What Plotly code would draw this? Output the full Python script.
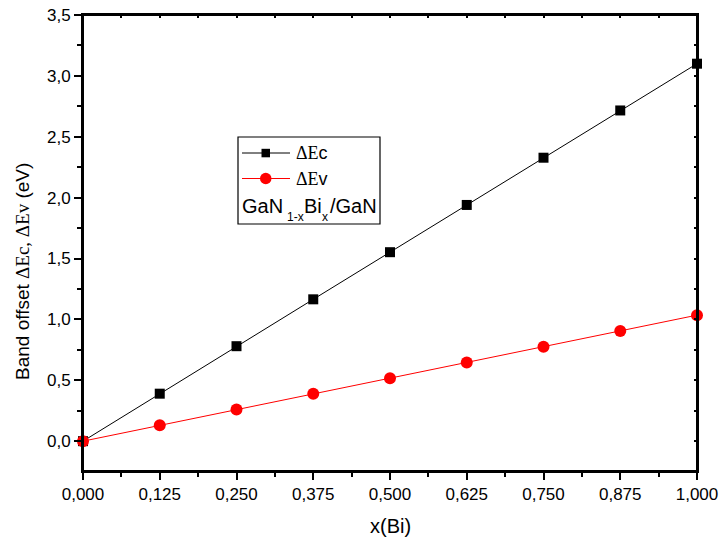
import plotly.graph_objects as go

x_bi = [0.0, 0.125, 0.25, 0.375, 0.5, 0.625, 0.75, 0.875, 1.0]
dEc = [0.0, 0.39, 0.78, 1.165, 1.552, 1.94, 2.328, 2.716, 3.1]
dEv = [0.0, 0.13, 0.26, 0.39, 0.517, 0.646, 0.776, 0.905, 1.035]
x_ticks = [0.0, 0.125, 0.25, 0.375, 0.5, 0.625, 0.75, 0.875, 1.0]
y_ticks = [0.0, 0.5, 1.0, 1.5, 2.0, 2.5, 3.0, 3.5]

SERIF = "Liberation Serif, Times New Roman, serif"
SANS = "Liberation Sans, Arial, sans-serif"

L, R, T, B = 83, 22, 15, 68
W, H = 719, 539
PW, PH = W - L - R, H - T - B

def px_x(p):
    return (p - L) / PW

def px_y(p):
    return (H - B - p) / PH

fig = go.Figure()
fig.add_trace(go.Scatter(x=x_bi, y=dEc, mode="lines+markers", name="ΔEc",
                         line=dict(color="black", width=1),
                         marker=dict(symbol="square", size=10, color="black"),
                         cliponaxis=False, showlegend=False))
fig.add_trace(go.Scatter(x=x_bi, y=dEv, mode="lines+markers", name="ΔEv",
                         line=dict(color="red", width=1),
                         marker=dict(symbol="circle", size=12, color="red"),
                         cliponaxis=False, showlegend=False))
fig.add_trace(go.Scatter(x=[None], y=[None], xaxis="x2", yaxis="y2", showlegend=False, hoverinfo="skip"))

axis_common = dict(showline=True, linecolor="black", linewidth=2, showgrid=False,
                   zeroline=False, ticks="outside", ticklen=7, tickwidth=2, automargin=False,
                   tickcolor="black", tickfont=dict(family=SANS, size=17, color="black"))

fig.update_layout(
    width=W, height=H,
    margin=dict(l=L, r=R, t=T, b=B, autoexpand=False),
    paper_bgcolor="white", plot_bgcolor="white",
    separators=",.",
    showlegend=False,
    xaxis=dict(range=[0, 1], tickvals=x_ticks, tickformat=".3f",
               minor=dict(ticks="outside", ticklen=4, tickwidth=2, tickcolor="black", dtick=0.0625, tick0=0),
               **axis_common),
    yaxis=dict(range=[-0.245, 3.5], tickvals=y_ticks, tickformat=".1f",
               minor=dict(ticks="outside", ticklen=4, tickwidth=2, tickcolor="black", dtick=0.25, tick0=0),
               **axis_common),
    xaxis2=dict(overlaying="x", side="top", range=[0, 1], showline=True, linecolor="black", linewidth=2,
                tickvals=x_ticks, ticks="inside", ticklen=3, tickwidth=1.5, tickcolor="black",
                showticklabels=False, showgrid=False, zeroline=False, automargin=False,
                minor=dict(ticks="inside", ticklen=3, tickwidth=1.5, tickcolor="black", dtick=0.0625, tick0=0)),
    yaxis2=dict(overlaying="y", side="right", range=[-0.245, 3.5], showline=True, linecolor="black", linewidth=2,
                tickvals=y_ticks, ticks="inside", ticklen=3, tickwidth=1.5, tickcolor="black",
                showticklabels=False, showgrid=False, zeroline=False, automargin=False,
                minor=dict(ticks="inside", ticklen=3, tickwidth=1.5, tickcolor="black", dtick=0.25, tick0=0)),
)

# plot frame and manual legend box
shapes = [
    dict(type="rect", xref="paper", yref="paper", x0=0, x1=1, y0=0, y1=1,
         line=dict(color="black", width=2), fillcolor="rgba(0,0,0,0)", layer="above"),
    dict(type="rect", xref="paper", yref="paper", x0=px_x(238), x1=px_x(380), y0=px_y(224), y1=px_y(137),
         line=dict(color="black", width=1.2), fillcolor="rgba(0,0,0,0)"),
    dict(type="line", xref="paper", yref="paper", x0=px_x(242), x1=px_x(290), y0=px_y(153), y1=px_y(153),
         line=dict(color="black", width=1)),
    dict(type="rect", xref="paper", yref="paper", x0=px_x(261.5), x1=px_x(270), y0=px_y(157.3), y1=px_y(148.8),
         line=dict(color="black", width=0), fillcolor="black"),
    dict(type="line", xref="paper", yref="paper", x0=px_x(242), x1=px_x(290), y0=px_y(178.5), y1=px_y(178.5),
         line=dict(color="red", width=1)),
    dict(type="circle", xref="paper", yref="paper", x0=px_x(260), x1=px_x(271.5), y0=px_y(184.2), y1=px_y(172.8),
         line=dict(color="red", width=0), fillcolor="red"),
]
fig.update_layout(shapes=shapes)

def ann(text, x, y, size, family=SANS, xanchor="left", angle=0):
    return dict(text=text, x=px_x(x), y=px_y(y), xref="paper", yref="paper",
                xanchor=xanchor, yanchor="middle", showarrow=False, textangle=angle,
                font=dict(family=family, size=size, color="black"))

annotations = [
    ann("<span style='font-family:Liberation Serif'>ΔE</span>c", 294, 153, 18),
    ann("<span style='font-family:Liberation Serif'>ΔE</span>v", 294, 178.5, 18),
    ann("GaN", 240, 205.5, 20),
    ann("1-x", 285, 216.5, 12),
    ann("Bi", 302, 205.5, 20),
    ann("x", 320, 216.5, 12),
    ann("/GaN", 328, 205.5, 20),
    ann("x(Bi)", 390, 526, 20, xanchor="center"),
    ann("Band offset <span style='font-family:Liberation Serif;font-size:19px'>ΔEc, ΔEv</span> (eV)", 22, 272, 19,
        xanchor="center", angle=-90),
]
fig.update_layout(annotations=annotations)

fig.write_html("out.html")
